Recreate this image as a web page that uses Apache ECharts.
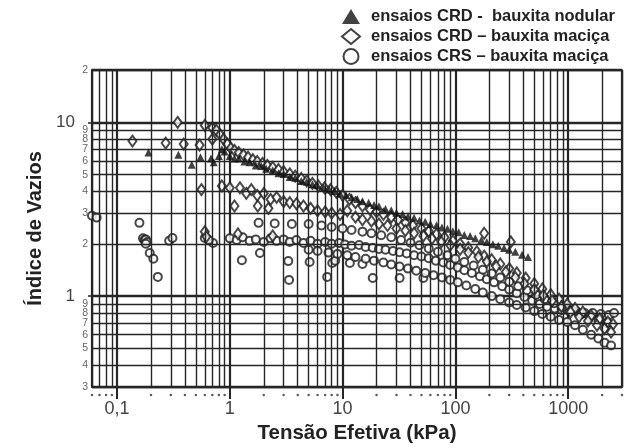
<!DOCTYPE html>
<html>
<head>
<meta charset="UTF-8">
<title>Índice de Vazios x Tensão Efetiva</title>
<script src="https://cdn.jsdelivr.net/npm/echarts@6/dist/echarts.min.js"></script>
<style>
  html, body { margin: 0; padding: 0; background: #fff; }
</style>
</head>
<body>
<div id="main" style="width: 627px; height: 448px;"></div>
<script>
// grid lines of the log paper (kPa and void ratio)
const xMinorLines = [0.06, 0.07, 0.08, 0.09, 0.2, 0.3, 0.4, 0.5, 0.6, 0.7, 0.8, 0.9,
  2, 3, 4, 5, 6, 7, 8, 9, 20, 30, 40, 50, 60, 70, 80, 90,
  200, 300, 400, 500, 600, 700, 800, 900, 2000, 3000];
const yMinorLines = [0.3, 0.4, 0.5, 0.6, 0.7, 0.8, 0.9, 2, 3, 4, 5, 6, 7, 8, 9, 20];
const xDecadeLabels = { 0.1: '0,1', 1: '1', 10: '10', 100: '100', 1000: '1000' };

const seriesNames = [
  'ensaios CRD -  bauxita nodular',
  'ensaios CRD – bauxita maciça',
  'ensaios CRS – bauxita maciça'
];

// CRD - bauxita nodular
const nodularScatter = [[0.19, 6.7], [0.35, 6.5], [0.46, 5.7], [0.55, 6.3], [0.68, 6.2],
  [0.72, 5.9], [0.8, 6.4], [0.85, 7.0], [0.9, 6.8]];
const nodularBand = [[1.0, 6.4], [1.1, 6.2], [1.2, 6.2], [1.35, 5.95], [1.5, 5.9], [1.7, 5.65],
  [1.9, 5.6], [2.1, 5.4], [2.4, 5.3], [2.7, 5.1], [3.0, 5.05], [3.4, 4.85], [3.8, 4.8],
  [4.3, 4.6], [4.8, 4.55], [5.4, 4.4], [6, 4.35], [6.8, 4.2], [7.6, 4.1], [8.5, 4.02],
  [9.5, 3.88], [10.7, 3.82], [12, 3.7], [13.5, 3.62], [15, 3.52], [17, 3.45], [19, 3.34],
  [21, 3.29], [24, 3.17], [27, 3.12], [30, 3.02], [34, 2.97], [38, 2.87], [43, 2.82],
  [48, 2.72], [54, 2.68], [60, 2.6], [68, 2.56], [76, 2.48], [85, 2.44], [95, 2.36],
  [107, 2.33], [120, 2.25], [135, 2.22], [150, 2.15], [170, 2.1], [190, 2.05], [215, 1.99],
  [240, 1.95], [270, 1.89], [300, 1.85], [340, 1.8], [390, 1.73], [440, 1.68]];

// CRD - bauxita maciça
const macicaCrdScatter = [[0.137, 7.8], [0.27, 7.6], [0.345, 10.0], [0.39, 7.5], [0.54, 7.4],
  [0.6, 9.6], [0.56, 4.1], [0.6, 2.35], [0.62, 2.2], [1.1, 3.3], [1.18, 2.28], [1.77, 3.3],
  [2.2, 3.2], [2.4, 2.22], [0.7, 8.0], [180, 2.3], [310, 2.05]];
const macicaCrdBand1 = [[0.7, 9.3], [0.76, 9.0], [0.82, 8.5], [0.88, 8.0], [0.95, 7.5],
  [1.02, 7.1], [1.1, 6.9], [1.2, 6.7], [1.32, 6.5], [1.45, 6.3], [1.6, 6.1], [1.75, 5.95],
  [1.95, 5.8], [2.15, 5.65], [2.4, 5.5], [2.7, 5.35], [3.0, 5.2], [3.4, 5.05], [3.8, 4.9],
  [4.3, 4.75], [4.8, 4.6], [5.4, 4.45], [6.1, 4.3], [6.9, 4.2], [7.8, 4.1], [8.8, 3.95],
  [10, 3.8], [11.5, 3.6], [13, 3.45], [15, 3.3], [17.5, 3.15], [20, 3.05], [23, 2.95],
  [27, 2.85], [31, 2.75], [36, 2.65], [42, 2.55], [50, 2.45], [58, 2.36], [68, 2.27],
  [80, 2.18], [95, 2.08], [110, 2.0], [130, 1.9], [155, 1.8], [180, 1.7], [210, 1.62],
  [250, 1.53], [300, 1.44], [350, 1.36], [420, 1.27], [500, 1.18], [590, 1.1], [700, 1.02],
  [830, 0.96], [980, 0.9], [1150, 0.85], [1350, 0.81], [1600, 0.77], [1900, 0.74],
  [2250, 0.71], [2500, 0.69]];
const macicaCrdBand2 = [[0.85, 4.3], [1.0, 4.2], [1.23, 4.2], [1.4, 3.9], [1.55, 4.1],
  [1.75, 3.8], [2.0, 3.9], [2.3, 3.6], [2.6, 3.7], [3.0, 3.5], [3.4, 3.45], [3.9, 3.4],
  [4.5, 3.3], [5.2, 3.2], [6, 3.1], [7, 3.05], [8, 3.0], [9.5, 2.95], [11, 3.1], [13, 2.85],
  [15, 2.75], [18, 2.7], [21, 2.6], [25, 2.55], [30, 2.45], [36, 2.38], [43, 2.3], [52, 2.22],
  [62, 2.14], [75, 2.05], [90, 1.96], [110, 1.86], [130, 1.78], [160, 1.68], [190, 1.58],
  [230, 1.48], [280, 1.38], [340, 1.28], [410, 1.18], [500, 1.09], [600, 1.01], [720, 0.94],
  [870, 0.87], [1050, 0.81], [1250, 0.76], [1500, 0.72], [1800, 0.68], [2100, 0.65],
  [2400, 0.62]];

// CRS - bauxita maciça
const macicaCrsScatter = [[0.06, 2.9], [0.066, 2.83], [0.158, 2.64], [0.17, 2.15],
  [0.175, 2.1], [0.18, 2.12], [0.185, 2.05], [0.18, 2.0], [0.195, 1.77], [0.21, 1.64],
  [0.23, 1.29], [0.29, 2.08], [0.31, 2.16], [0.6, 2.16], [0.71, 2.02], [0.65, 2.1],
  [1.28, 1.61], [1.85, 1.77], [3.3, 1.59], [3.35, 1.24], [5.1, 1.57], [7.3, 1.29],
  [8.1, 1.55], [8.6, 1.6], [11.6, 1.55], [15, 1.53], [18.5, 1.27], [32, 1.27], [52, 1.27]];
const macicaCrsBand1 = [[1.0, 2.15], [1.15, 2.1], [1.3, 2.18], [1.5, 2.08], [1.7, 2.12],
  [2.0, 2.05], [2.3, 2.15], [2.6, 2.08], [3.0, 2.12], [3.4, 2.05], [3.9, 2.1], [4.5, 2.02],
  [5.2, 2.08], [6, 2.0], [7, 2.05], [8, 2.0], [9.3, 2.02], [10.5, 1.98], [12, 1.95],
  [14, 1.97], [16, 1.92], [18.5, 1.9], [21, 1.87], [24, 1.85], [28, 1.82], [32, 1.79],
  [37, 1.76], [43, 1.72], [50, 1.69], [58, 1.65], [67, 1.6], [78, 1.56], [90, 1.51],
  [105, 1.46], [120, 1.41], [140, 1.36], [165, 1.3], [190, 1.25], [220, 1.2], [260, 1.14],
  [300, 1.09], [350, 1.04], [410, 0.99], [480, 0.94], [560, 0.9], [650, 0.87], [760, 0.85],
  [880, 0.83], [1020, 0.82], [1200, 0.81], [1400, 0.8], [1650, 0.8], [1950, 0.79],
  [2300, 0.78], [2550, 0.8]];
const macicaCrsBand2 = [[5, 1.85], [6, 1.82], [7.5, 1.78], [9, 1.75], [11, 1.72], [13, 1.68],
  [16, 1.64], [19, 1.6], [23, 1.56], [27, 1.52], [32, 1.48], [38, 1.44], [45, 1.4],
  [54, 1.36], [64, 1.32], [76, 1.28], [90, 1.24], [105, 1.2], [125, 1.15], [150, 1.1],
  [175, 1.05], [210, 1.0], [250, 0.96], [300, 0.92], [350, 0.89], [420, 0.86], [500, 0.82],
  [590, 0.79], [700, 0.76], [830, 0.73], [980, 0.71], [1150, 0.68], [1350, 0.64],
  [1600, 0.6], [1850, 0.57], [2100, 0.54], [2400, 0.52]];
const macicaCrsBand3 = [[1.8, 2.64], [2.5, 2.62], [3.55, 2.6], [5, 2.6], [6.5, 2.55],
  [8, 2.5], [10, 2.45], [12, 2.4], [15, 2.35], [18, 2.3], [22, 2.24], [27, 2.18], [33, 2.1],
  [40, 2.03], [48, 1.96], [58, 1.88], [70, 1.8], [85, 1.72], [100, 1.64], [120, 1.57],
  [145, 1.5], [175, 1.42], [210, 1.35], [250, 1.28], [300, 1.21], [360, 1.14], [430, 1.08],
  [520, 1.02], [620, 0.96], [750, 0.91], [900, 0.87], [1080, 0.83], [1300, 0.79],
  [1550, 0.76], [1850, 0.73], [2200, 0.7]];

const FONT = "'Liberation Sans', Arial, sans-serif";
const LINE = '#262626';

const chart = echarts.init(document.getElementById('main'), null, { renderer: 'canvas' });

const near = (a, b) => Math.abs(a - b) < b * 1e-6;

const option = {
  animation: false,
  backgroundColor: '#fff',
  legend: {
    orient: 'vertical',
    left: 336,
    top: 3,
    itemWidth: 18,
    itemHeight: 15,
    itemGap: 3,
    selectedMode: false,
    textStyle: { fontFamily: FONT, fontSize: 16.5, fontWeight: 'bold', color: '#222', padding: [0, 0, 0, 6] },
    data: [
      { name: seriesNames[0], icon: 'triangle', itemStyle: { color: '#111', borderWidth: 0 } },
      { name: seriesNames[1], icon: 'emptyDiamond', itemStyle: { color: '#111', borderColor: '#111', borderWidth: 2.5 } },
      { name: seriesNames[2], icon: 'emptyCircle', itemStyle: { color: '#111', borderColor: '#111', borderWidth: 3 } }
    ]
  },
  grid: {
    left: 92, right: 5, top: 70, bottom: 61,
    show: true, borderColor: LINE, borderWidth: 1.5,
    containLabel: false,
    outerBoundsMode: 'none'
  },
  xAxis: {
    type: 'log',
    logBase: 10,
    min: 0.06,
    max: 3000,
    name: 'Tensão Efetiva (kPa)',
    nameLocation: 'middle',
    nameGap: 34,
    nameTextStyle: { fontFamily: FONT, fontSize: 20.5, fontWeight: 'bold', color: '#222' },
    axisLine: { show: true, lineStyle: { color: LINE, width: 1.8 } },
    axisTick: { show: true, length: 12, lineStyle: { color: LINE, width: 2 } },
    axisLabel: {
      fontFamily: FONT, fontSize: 18, color: '#444', margin: 13,
      showMinLabel: false, showMaxLabel: false,
      formatter: v => {
        for (const k in xDecadeLabels) { if (near(v, +k)) return xDecadeLabels[k]; }
        return '';
      }
    },
    splitLine: { show: true, lineStyle: { color: LINE, width: 2.2 } }
  },
  yAxis: {
    type: 'log',
    logBase: 10,
    min: 0.3,
    max: 20,
    name: 'Índice de Vazios',
    nameLocation: 'middle',
    nameGap: 46,
    nameTextStyle: { fontFamily: FONT, fontSize: 20, fontWeight: 'bold', color: '#222' },
    axisLine: { show: true, lineStyle: { color: LINE, width: 1.8 } },
    axisTick: { show: true, length: 4, lineStyle: { color: LINE, width: 1.5 } },
    axisLabel: {
      fontFamily: FONT, fontSize: 17, color: '#444', margin: 17,
      showMinLabel: false, showMaxLabel: false,
      formatter: v => (near(v, 1) ? '1' : near(v, 10) ? '10' : '')
    },
    splitLine: { show: true, lineStyle: { color: LINE, width: 2.4 } }
  },
  series: [
    {
      name: 'paper',
      type: 'scatter',
      data: xMinorLines.map(x => [x, 0.27]),
      symbol: 'circle',
      symbolSize: 2.5,
      clip: false,
      silent: true,
      z: 1,
      itemStyle: { color: '#333' },
      markLine: {
        silent: true,
        symbol: ['none', 'none'],
        animation: false,
        lineStyle: { color: LINE, type: 'solid', width: 1.4 },
        label: { show: false },
        data: [
          ...xMinorLines.map(x => ({ xAxis: x })),
          ...yMinorLines.map(y => ({
            yAxis: y,
            label: {
              show: true, position: 'start', distance: 4,
              fontFamily: FONT, fontSize: 10.5, color: '#666',
              formatter: String(Math.round(y >= 1 ? y : y * 10) % 10 || Math.round(y >= 10 ? y / 10 : y))
            }
          }))
        ]
      }
    },
    {
      name: seriesNames[2],
      type: 'scatter',
      data: [...macicaCrsScatter, ...macicaCrsBand1, ...macicaCrsBand2, ...macicaCrsBand3],
      symbol: 'emptyCircle',
      symbolSize: 8,
      z: 3,
      itemStyle: { color: '#1a1a1a', borderWidth: 1.2 }
    },
    {
      name: seriesNames[1],
      type: 'scatter',
      data: [...macicaCrdScatter, ...macicaCrdBand1, ...macicaCrdBand2],
      symbol: 'emptyDiamond',
      symbolSize: [8, 11],
      z: 4,
      itemStyle: { color: '#1a1a1a', borderWidth: 1.2 }
    },
    {
      name: seriesNames[0],
      type: 'scatter',
      data: [...nodularScatter, ...nodularBand],
      symbol: 'triangle',
      symbolSize: 8,
      z: 5,
      itemStyle: { color: '#111' }
    }
  ]
};

chart.setOption(option);
</script>
</body>
</html>
